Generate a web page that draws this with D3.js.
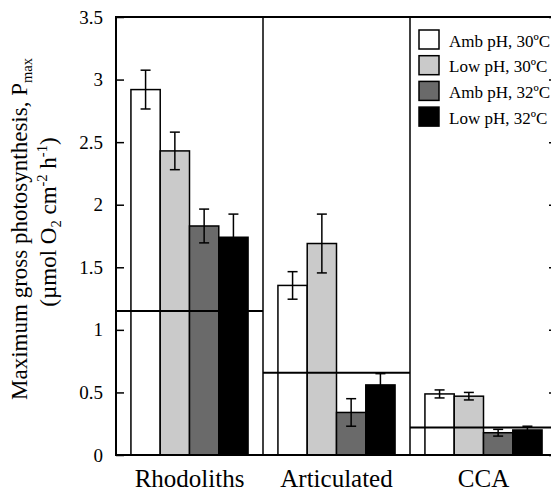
<!DOCTYPE html>
<html>
<head>
<meta charset="utf-8">
<script src="https://cdn.jsdelivr.net/npm/d3@7"></script>
<style>
  body { margin: 0; background: #fff; }
  svg { display: block; font-family: "Liberation Serif", "Times New Roman", serif; }
</style>
</head>
<body>
<svg width="551" height="492"></svg>
<script>
// chart data:
var groups = ["Rhodoliths", "Articulated", "CCA"],
    series = ["Amb pH, 30ºC", "Low pH, 30ºC", "Amb pH, 32ºC", "Low pH, 32ºC"],
    colours = ["#ffffff", "#cacaca", "#6a6a6a", "#000000"],
    // one row per group, one value per series
    means = [
        [2.92, 2.43, 1.83, 1.74],
        [1.355, 1.69, 0.34, 0.56],
        [0.488, 0.47, 0.178, 0.20]
    ],
    errors = [
        [0.155, 0.15, 0.135, 0.185],
        [0.11, 0.235, 0.11, 0.09],
        [0.032, 0.03, 0.027, 0.03]
    ],
    group_lines = [1.15, 0.658, 0.22],
    y_ticks = [0, 0.5, 1, 1.5, 2, 2.5, 3, 3.5]
;

// plot box (note: "top" is taken by window.top, so use other names)
var svg = d3.select("svg"),
    x0 = 116, x1 = 557, y_top = 17, y_bot = 455,
    x = d3.scaleBand().domain(groups).range([x0, x1]),
    xi = d3.scaleBand().domain(series).range([0, x.bandwidth()]).paddingOuter(0.51),
    y = d3.scaleLinear().domain([0, 3.5]).range([y_bot, y_top])
;

// bars
var g = svg.selectAll(".group")
    .data(groups)
    .enter().append("g")
    .attr("class", "group")
    .attr("transform", d => "translate(" + x(d) + ",0)");

g.selectAll("rect")
    .data((d, i) => means[i].map((v, j) => ({ s: series[j], v: v, c: colours[j] })))
    .enter().append("rect")
    .attr("x", d => xi(d.s))
    .attr("y", d => y(d.v))
    .attr("width", xi.bandwidth())
    .attr("height", d => y_bot - y(d.v))
    .style("fill", d => d.c)
    .style("stroke", "#000")
    .style("stroke-width", 1.5);

// horizontal line across each group
g.append("line")
    .attr("x1", 0)
    .attr("x2", x.bandwidth())
    .attr("y1", (d, i) => y(group_lines[i]))
    .attr("y2", (d, i) => y(group_lines[i]))
    .style("stroke", "#000")
    .style("stroke-width", 2);

// error bars
var eb = g.selectAll(".err")
    .data((d, i) => means[i].map((v, j) => ({ s: series[j], v: v, e: errors[i][j] })))
    .enter().append("g")
    .attr("class", "err")
    .attr("transform", d => "translate(" + (xi(d.s) + xi.bandwidth() / 2) + ",0)")
    .style("stroke", "#000")
    .style("stroke-width", 1.5);
eb.append("line").attr("y1", d => y(d.v + d.e)).attr("y2", d => y(d.v - d.e));
eb.append("line").attr("x1", -5).attr("x2", 5).attr("y1", d => y(d.v + d.e)).attr("y2", d => y(d.v + d.e));
eb.append("line").attr("x1", -5).attr("x2", 5).attr("y1", d => y(d.v - d.e)).attr("y2", d => y(d.v - d.e));

// separators between groups
svg.selectAll(".sep")
    .data(groups.slice(1))
    .enter().append("line")
    .attr("x1", d => x(d)).attr("x2", d => x(d))
    .attr("y1", y_top).attr("y2", y_bot)
    .style("stroke", "#000")
    .style("stroke-width", 1.5);

// axes with inward ticks
svg.append("g")
    .attr("transform", "translate(" + x0 + ",0)")
    .call(d3.axisLeft(y).tickValues(y_ticks).tickSize(-8).tickPadding(13).tickFormat(d => String(d)))
    .call(a => a.select(".domain").remove())
    .call(a => a.selectAll("line").style("stroke-width", 1.5))
    .call(a => a.selectAll("text").style("font-size", "19px").style("font-family", "Liberation Serif"));

svg.append("g")
    .attr("transform", "translate(" + x1 + ",0)")
    .call(d3.axisRight(y).tickValues(y_ticks).tickSize(-8).tickFormat(""))
    .call(a => a.select(".domain").remove())
    .call(a => a.selectAll("line").style("stroke-width", 1.5));

// frame
svg.append("rect")
    .attr("x", x0).attr("y", y_top)
    .attr("width", x1 - x0).attr("height", y_bot - y_top)
    .style("fill", "none")
    .style("stroke", "#000")
    .style("stroke-width", 2);

// group labels
svg.selectAll(".cat")
    .data(groups)
    .enter().append("text")
    .attr("x", d => x(d) + x.bandwidth() / 2)
    .attr("y", 487)
    .attr("text-anchor", "middle")
    .style("font-size", "25px")
    .text(d => d);

// y axis title, two lines
var t1 = svg.append("text")
    .attr("transform", "translate(27,229) rotate(-90)")
    .attr("text-anchor", "middle")
    .style("font-size", "23px");
t1.append("tspan").text("Maximum gross photosynthesis, P");
t1.append("tspan").attr("dy", 5).style("font-size", "14.5px").text("max");

var t2 = svg.append("text")
    .attr("transform", "translate(56,222) rotate(-90)")
    .attr("text-anchor", "middle")
    .style("font-size", "23px");
t2.append("tspan").text("(µmol O");
t2.append("tspan").attr("dy", 5).style("font-size", "14.5px").text("2");
t2.append("tspan").attr("dy", -5).text(" cm");
t2.append("tspan").attr("dy", -9).style("font-size", "14.5px").text("-2");
t2.append("tspan").attr("dy", 9).text(" h");
t2.append("tspan").attr("dy", -9).style("font-size", "14.5px").text("-1");
t2.append("tspan").attr("dy", 9).text(")");

// legend
var lg = svg.selectAll(".leg")
    .data(series)
    .enter().append("g")
    .attr("class", "leg")
    .attr("transform", (d, i) => "translate(419," + (30 + i * 25.7) + ")");
lg.append("rect")
    .attr("width", 20).attr("height", 19)
    .style("fill", (d, i) => colours[i])
    .style("stroke", "#000")
    .style("stroke-width", 1.5);
lg.append("text")
    .attr("x", 30).attr("y", 16.5)
    .style("font-size", "17px")
    .text(d => d);
</script>
</body>
</html>
